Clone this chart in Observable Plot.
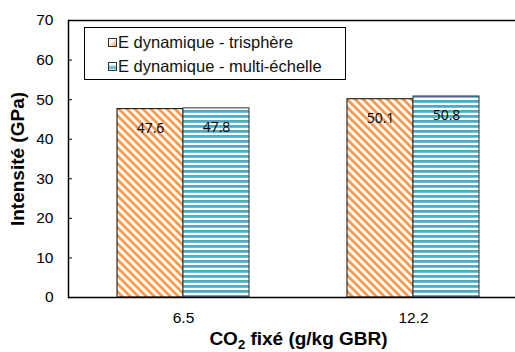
<!DOCTYPE html>
<html><head><meta charset="utf-8">
<script src="https://cdn.jsdelivr.net/npm/d3@7"></script>
<script src="https://cdn.jsdelivr.net/npm/@observablehq/plot@0.6"></script>
<style>
body{margin:0;background:#fff}
#wrap{position:relative;width:515px;height:352px;overflow:hidden}
#chart svg{max-width:none !important;display:block}
#legend{position:absolute;left:84px;top:27px;width:260px;height:51px;border:1px solid #000;background:#fff;font:16.5px Arial,"Liberation Sans",sans-serif;color:#111}
.item{position:absolute;left:23px;height:20px;display:flex;align-items:center;white-space:nowrap}
.sw{width:7px;height:7px;border:1px solid #333;margin-right:1px}
</style>
</head><body>
<div id="wrap"><div id="chart"></div>
<div id="legend"></div></div>
<script>
const categories = ["6.5", "12.2"];
const series = ["E dynamique - trisphère", "E dynamique - multi-échelle"];
const trisphere = [47.6, 50.1];
const multiEchelle = [47.8, 50.8];
const yTicks = [0, 10, 20, 30, 40, 50, 60, 70];
const yLabel = "Intensité (GPa)";
const xLabel = "CO2 fixé (g/kg GBR)";

const rowsA = categories.map((c, i) => ({cat: c, series: series[0], value: trisphere[i]}));
const rowsB = categories.map((c, i) => ({cat: c, series: series[1], value: multiEchelle[i]}));
const rows = rowsA.concat(rowsB);

const chart = Plot.plot({
  width: 528, height: 352,
  marginLeft: 68, marginRight: 0, marginTop: 20, marginBottom: 55,
  style: {fontFamily: "Arial, 'Liberation Sans', sans-serif", fontSize: "15.5px", color: "#000", background: "#fff"},
  fx: {domain: categories, padding: 0},
  x: {domain: series, paddingInner: 0, paddingOuter: 0.742, axis: null},
  y: {domain: [0, 70]},
  marks: [
    Plot.barY(rowsA, {fx: "cat", x: "series", y: "value", fill: "url(#pOrange)", stroke: "#000", strokeWidth: 1}),
    Plot.barY(rowsB, {fx: "cat", x: "series", y: "value", fill: "url(#pBlue)", stroke: "#333", strokeWidth: 1}),
    Plot.text(rows, {fx: "cat", x: "series", y: "value", text: d => d.value.toFixed(1), dy: 19,
      fontFamily: "'Open Sans', sans-serif", fontSize: 14, fill: "#000"}),
    Plot.ruleY([0, 70], {stroke: "#000", strokeWidth: 1.5}),
    Plot.frame({anchor: "left", facetAnchor: "left", stroke: "#000", strokeWidth: 1.5}),
    Plot.axisY({ticks: yTicks, tickSize: -4, tickPadding: 19, label: yLabel, labelAnchor: "center",
      labelArrow: "none", labelOffset: 58, tickFormat: d => String(d), fontSize: 15.5}),
    Plot.axisFx({anchor: "bottom", tickSize: 0, tickPadding: 14, label: xLabel, labelAnchor: "center",
      labelArrow: "none", labelOffset: 47, fontSize: 15.5})
  ]
});
document.getElementById("chart").appendChild(chart);

const svg = d3.select(chart.tagName === "svg" ? chart : chart.querySelector("svg"));
const defs = svg.insert("defs", ":first-child");
const po = defs.append("pattern").attr("id", "pOrange").attr("patternUnits", "userSpaceOnUse")
  .attr("width", 5.66).attr("height", 5.66).attr("patternTransform", "rotate(-45)");
po.append("rect").attr("width", 5.66).attr("height", 5.66).attr("fill", "#fff");
po.append("rect").attr("width", 2.7).attr("height", 5.66).attr("fill", "#F79646");
const pb = defs.append("pattern").attr("id", "pBlue").attr("patternUnits", "userSpaceOnUse")
  .attr("width", 10).attr("height", 5);
pb.append("rect").attr("width", 10).attr("height", 5).attr("fill", "#fff");
pb.append("rect").attr("width", 10).attr("height", 2.8).attr("fill", "#4BACC6");

svg.selectAll("text").each(function() {
  const t = d3.select(this);
  const s = t.text();
  if (s === yLabel) {
    t.attr("font-weight", "bold").attr("font-size", 19);
  } else if (s === xLabel) {
    t.attr("font-weight", "bold").attr("font-size", 19).text(null);
    t.append("tspan").text("CO");
    t.append("tspan").attr("font-size", 13).attr("dy", 4).text("2");
    t.append("tspan").attr("dy", -4).text(" fixé (g/kg GBR)");
  }
});

const legend = d3.select("#legend");
const swatches = [
  "linear-gradient(135deg,#fff 35%,#F79646)",
  "linear-gradient(#fff 20%,#4BACC6 70%,#fff)"
];
series.forEach((s, i) => {
  const it = legend.append("div").attr("class", "item").style("top", (4 + i * 24) + "px");
  it.append("div").attr("class", "sw").style("background", swatches[i]);
  it.append("span").text(s);
});
</script>
</body></html>
